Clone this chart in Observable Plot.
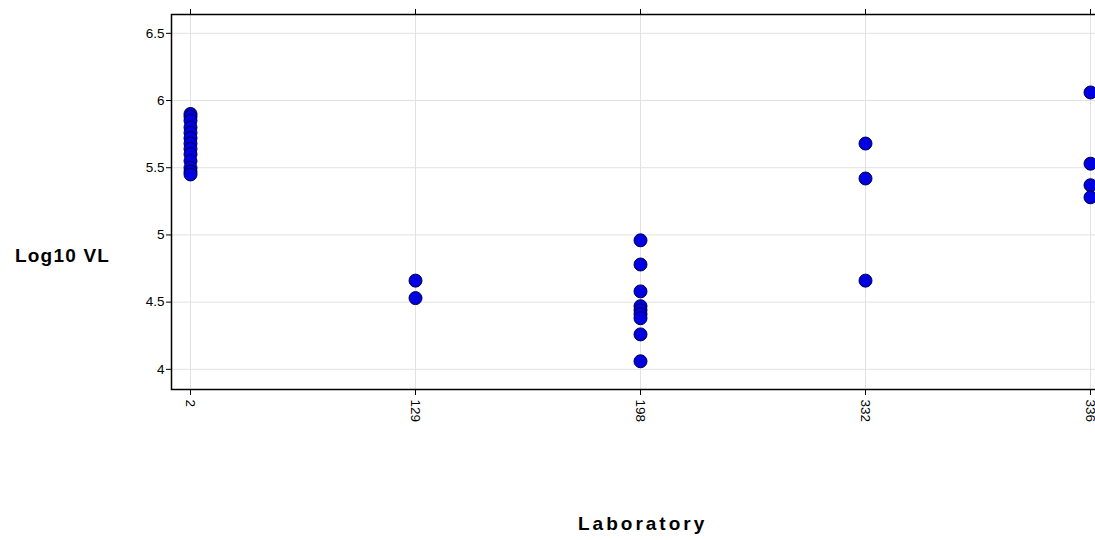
<!DOCTYPE html>
<html><head><meta charset="utf-8">
<script src="https://cdn.jsdelivr.net/npm/d3@7"></script>
<script src="https://cdn.jsdelivr.net/npm/@observablehq/plot@0.6"></script>
<style>
body{margin:0;overflow:hidden;background:#fff;font-family:"Liberation Sans",Arial,sans-serif;}
#wrap{position:relative;width:1095px;height:540px;overflow:hidden;}
#chart{position:absolute;left:0;top:0;width:1115px;}
#chart svg{max-width:none !important;}
.lab{position:absolute;font-weight:bold;color:#000;white-space:nowrap;font-family:"Liberation Sans",Arial,sans-serif;}
</style></head><body>
<div id="wrap"><div id="chart"></div>
<div class="lab" id="ylab" style="left:15px;top:245px;font-size:19px;letter-spacing:1.2px;">Log10 VL</div>
<div class="lab" id="xlab" style="left:578px;top:513px;font-size:19px;letter-spacing:3px;">Laboratory</div>
</div>
<script>
const labs = ["2", "129", "198", "332", "336"];
const lab2 = [5.90, 5.88, 5.85, 5.80, 5.76, 5.72, 5.68, 5.64, 5.60, 5.55, 5.50, 5.47, 5.45];
const lab129 = [4.66, 4.53];
const lab198 = [4.96, 4.78, 4.58, 4.47, 4.44, 4.41, 4.38, 4.26, 4.06];
const lab332 = [5.68, 5.42, 4.66];
const lab336 = [6.06, 5.53, 5.37, 5.28];
const yTicks = [4, 4.5, 5, 5.5, 6, 6.5];

const series = [lab2, lab129, lab198, lab332, lab336];
const data = series.flatMap((vals, i) => vals.map(v => ({lab: labs[i], vl: v})));

const chart = Plot.plot({
  width: 1115,
  height: 540,
  marginLeft: 171,
  marginRight: 7,
  marginTop: 14,
  marginBottom: 151,
  style: {fontFamily: "Liberation Sans, Arial, sans-serif", fontSize: "13.5px", color: "#000", background: "#fff", maxWidth: "none"},
  x: {type: "point", domain: labs, padding: 0.078},
  y: {domain: [3.85, 6.64]},
  marks: [
    Plot.gridX(labs, {stroke: "#e2e2e2", strokeOpacity: 1}),
    Plot.gridY(yTicks, {stroke: "#e2e2e2", strokeOpacity: 1}),
    Plot.axisY(yTicks, {tickSize: 5, tickPadding: 2, tickFormat: d => String(d), label: null}),
    Plot.axisX(labs, {anchor: "bottom", tickSize: 6, tickRotate: 90, tickPadding: 4, label: null}),
    Plot.axisX(labs, {anchor: "top", tickSize: 6, tickFormat: null, label: null}),
    Plot.frame({stroke: "#000", strokeWidth: 1.5}),
    Plot.dot(data, {x: "lab", y: "vl", r: 6.5, fill: "#0000e0", stroke: "#00004d", strokeWidth: 1})
  ]
});
chart.style.maxWidth = "none";
document.getElementById("chart").appendChild(chart);
</script>
</body></html>
